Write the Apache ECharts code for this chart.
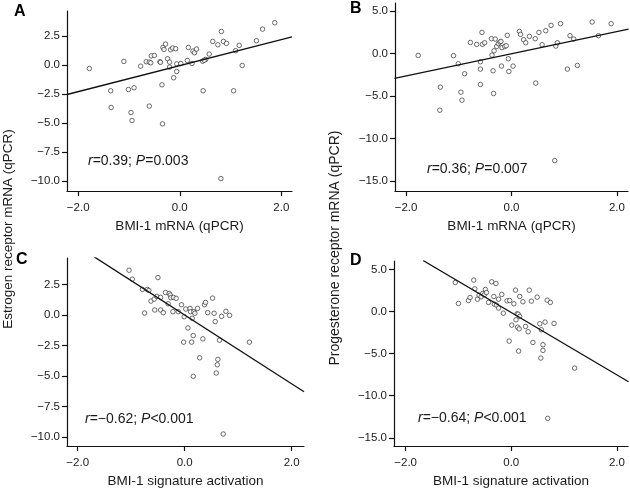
<!DOCTYPE html>
<html><head><meta charset="utf-8">
<script src="https://cdn.jsdelivr.net/npm/echarts@6/dist/echarts.min.js"></script>
<style>html,body{margin:0;padding:0;background:#fff}#c{width:630px;height:492px}</style>
</head><body><div id="c"></div>
<script>
// Panel A: BMI-1 mRNA vs Estrogen receptor mRNA
const aX = [-1.78,-1.36,-1.35,-1.10,-1.01,-0.90,-0.96,-0.94,-0.77,-0.66,-0.60,-0.57,-0.60,-0.56,-0.50,-0.39,-0.38,-0.35,-0.34,-0.33,-0.31,-0.28,-0.24,-0.20,-0.20,-0.18,-0.14,-0.08,-0.12,-0.06,-0.06,0.02,0.15,0.17,0.24,0.26,0.29,0.33,0.45,0.46,0.51,0.58,0.65,0.75,0.82,0.86,0.92,0.81,1.06,1.10,1.17,1.23,1.51,1.63,1.87,0.48];
const aY = [-0.29,-2.21,-3.65,0.32,-2.10,-1.95,-4.08,-4.77,-0.09,0.29,0.26,0.20,-3.53,0.80,0.83,0.29,0.24,-1.70,-5.06,1.52,1.35,1.81,0.55,0.26,-0.17,1.32,1.47,1.41,-1.09,-0.55,0.11,0.14,0.40,1.52,0.14,1.21,1.06,1.38,0.34,-2.21,0.49,0.95,2.04,1.75,2.90,2.04,1.87,-9.77,-2.21,1.24,1.70,-0.03,2.10,3.10,3.65,0.42];
const aFitX = [-2.22, 2.21];
const aFitY = [-2.53, 2.44];
// Panel B: BMI-1 mRNA vs Progesterone receptor mRNA
const bX = [-1.77,-1.35,-1.36,-1.10,-1.01,-0.96,-0.94,-0.89,-0.78,-0.66,-0.59,-0.59,-0.59,-0.56,-0.55,-0.51,-0.38,-0.37,-0.35,-0.34,-0.33,-0.31,-0.28,-0.25,-0.22,-0.20,-0.19,-0.18,-0.13,-0.10,-0.08,-0.06,-0.05,0.03,0.15,0.17,0.23,0.27,0.34,0.45,0.46,0.52,0.58,0.65,0.75,0.82,0.84,0.87,0.93,1.06,1.11,1.18,1.25,1.53,1.65,1.89];
const bY = [-0.24,-3.96,-6.67,-0.27,-1.22,-4.55,-5.49,-2.39,1.29,1.06,-1.84,-0.98,-3.65,2.47,1.06,1.25,1.73,-0.20,-2.04,-4.71,0.31,1.69,0.82,1.14,1.33,1.41,-1.49,0.67,0.82,0.90,2.12,-0.63,-2.12,-1.49,2.59,2.24,1.61,1.25,2.00,1.73,-3.49,2.47,1.02,2.67,3.29,-12.59,0.86,1.25,3.49,-1.84,2.08,1.69,-1.41,3.69,2.08,3.49];
const bFitX = [-2.22, 2.22];
const bFitY = [-2.94, 2.86];
// Panel C: BMI-1 signature activation vs Estrogen receptor mRNA
const cX = [-1.04,-0.98,-0.79,-0.70,-0.67,-0.75,-0.63,-0.57,-0.52,-0.56,-0.50,-0.45,-0.45,-0.40,-0.36,-0.31,-0.29,-0.27,-0.26,-0.22,-0.21,-0.16,-0.12,-0.06,-0.02,-0.01,0.02,0.06,0.10,0.11,0.13,0.14,0.16,0.16,0.17,0.19,0.24,0.28,0.34,0.37,0.39,0.43,0.52,0.55,0.57,0.59,0.61,0.62,0.65,0.69,0.72,0.77,0.84,1.21];
const cY = [3.66,2.93,2.09,2.09,2.01,0.16,1.14,1.30,1.52,0.41,3.06,1.44,0.41,0.19,1.84,0.92,1.76,1.63,1.41,0.27,1.44,1.36,0.27,0.84,-2.22,-0.14,0.49,-1.06,0.54,0.27,-2.22,-0.27,-1.68,-5.01,0.27,0.14,0.54,-3.50,-1.95,0.84,1.03,0.19,1.38,0.14,-0.54,-4.74,-4.07,-3.63,-2.06,-0.11,-9.73,0.30,-0.03,-2.22];
const cFitX = [-1.69, 2.23];
const cFitY = [4.75, -6.27];
// Panel D: BMI-1 signature activation vs Progesterone receptor mRNA
const dX = [-1.06,-1.00,-0.81,-0.78,-0.71,-0.69,-0.64,-0.61,-0.57,-0.54,-0.51,-0.49,-0.47,-0.43,-0.37,-0.33,-0.32,-0.29,-0.28,-0.24,-0.24,-0.18,-0.15,-0.08,-0.03,-0.04,0.01,0.05,0.08,0.09,0.11,0.12,0.13,0.14,0.15,0.16,0.16,0.22,0.27,0.32,0.34,0.38,0.41,0.49,0.54,0.56,0.57,0.60,0.60,0.64,0.68,0.69,0.74,0.81,1.20];
const dY = [3.44,0.95,1.30,1.66,3.72,2.69,1.46,1.94,1.74,2.13,1.98,2.61,2.25,1.07,3.52,1.78,0.87,3.32,0.75,0.40,1.46,2.02,-0.20,1.26,1.30,-3.52,-1.62,0.91,2.53,-0.99,-0.28,-1.86,-0.32,-4.70,-2.06,-0.59,1.78,1.15,-1.78,-2.41,2.53,1.23,-3.68,1.70,-1.46,-5.53,-2.17,-3.95,-4.62,-1.26,1.34,-12.69,1.07,-1.42,-6.72];
const dFitX = [-1.67, 2.22];
const dFitY = [6.05, -8.35];

const xTicks = [-2, 0, 2];
const yTicksER = [-10, -7.5, -5, -2.5, 0, 2.5];
const yTicksPR = [-15, -10, -5, 0, 5];
const xTitles = ['BMI-1 mRNA (qPCR)', 'BMI-1 mRNA (qPCR)', 'BMI-1 signature activation', 'BMI-1 signature activation'];
const yTitles = ['Estrogen receptor mRNA (qPCR)', 'Progesterone receptor mRNA (qPCR)'];
const panelLetters = ['A', 'B', 'C', 'D'];
const stats = [['0.39', '=0.003'], ['0.36', '=0.007'], ['\u22120.62', '<0.001'], ['\u22120.64', '<0.001']];

const FONT = 'Liberation Sans, Arial, Helvetica, sans-serif';
const TXT = '#1a1a1a';
const fmt = v => (v < 0 ? '\u2212' : '') + Math.abs(v).toFixed(1);

const grids = [
  {left: 67, top: 11, width: 225, height: 180},
  {left: 395, top: 3, width: 233, height: 188},
  {left: 67, top: 258, width: 237, height: 188},
  {left: 394, top: 261, width: 234, height: 185}
];
const xRanges = [[-2.22, 2.21], [-2.21, 2.21], [-2.2, 2.23], [-2.22, 2.21]];
const yRanges = [[-10.84, 4.66], [-16.16, 5.92], [-10.71, 4.66], [-15.97, 5.99]];
const yTickSets = [yTicksER, yTicksPR, yTicksER, yTicksPR];
const scat = [[aX, aY], [bX, bY], [cX, cY], [dX, dY]];
const fits = [[aFitX, aFitY], [bFitX, bFitY], [cFitX, cFitY], [dFitX, dFitY]];

const axisCommon = {
  axisLine: {show: true, onZero: false, lineStyle: {color: '#111', width: 1.2}},
  axisTick: {show: true, length: 5, lineStyle: {color: '#111', width: 1.2}},
  splitLine: {show: false},
  axisLabel: {color: TXT, fontFamily: FONT, fontSize: 11.5, formatter: fmt}
};

const xAxis = [], yAxis = [], series = [];
for (let i = 0; i < 4; i++) {
  xAxis.push({
    type: 'value', gridIndex: i, min: xRanges[i][0], max: xRanges[i][1],
    axisLine: axisCommon.axisLine, splitLine: axisCommon.splitLine,
    axisTick: Object.assign({}, axisCommon.axisTick, {customValues: xTicks}),
    axisLabel: Object.assign({}, axisCommon.axisLabel, {customValues: xTicks, margin: 11}),
    name: xTitles[i], nameLocation: 'middle', nameGap: 28,
    nameTextStyle: {color: TXT, fontFamily: FONT, fontSize: 13.5}
  });
  yAxis.push({
    type: 'value', gridIndex: i, min: yRanges[i][0], max: yRanges[i][1],
    axisLine: axisCommon.axisLine, splitLine: axisCommon.splitLine,
    axisTick: Object.assign({}, axisCommon.axisTick, {customValues: yTickSets[i]}),
    axisLabel: Object.assign({}, axisCommon.axisLabel, {customValues: yTickSets[i], margin: 7})
  });
  series.push({
    type: 'scatter', xAxisIndex: i, yAxisIndex: i, symbol: 'circle', symbolSize: 4.5,
    itemStyle: {color: '#fff', borderColor: '#333', borderWidth: 0.9},
    data: scat[i][0].map((x, k) => [x, scat[i][1][k]]), silent: true
  });
  series.push({
    type: 'line', xAxisIndex: i, yAxisIndex: i, showSymbol: false, symbol: 'none',
    lineStyle: {color: '#111', width: 1.3}, clip: true, silent: true,
    data: fits[i][0].map((x, k) => [x, fits[i][1][k]])
  });
}

const statPos = [[88, 162], [427, 170], [85, 420], [418, 419]];
const letterPos = [[14, 12], [350, 9], [16, 260], [350, 261]];
const graphic = [];
for (let i = 0; i < 4; i++) {
  graphic.push({
    type: 'text', left: statPos[i][0], top: statPos[i][1] - 8,
    style: {
      text: '{i|r}{n|=' + stats[i][0] + '; }{i|P}{n|' + stats[i][1] + '}',
      rich: {
        i: {fontStyle: 'italic', fontFamily: FONT, fontSize: 14, fill: TXT},
        n: {fontFamily: FONT, fontSize: 14, fill: TXT}
      }
    }
  });
  graphic.push({
    type: 'text', left: letterPos[i][0], top: letterPos[i][1] - 8,
    style: {text: panelLetters[i], font: 'bold 16px ' + FONT, fill: '#000'}
  });
}
graphic.push({
  type: 'text', x: 8, y: 229, rotation: Math.PI / 2,
  style: {text: yTitles[0], font: '13.5px ' + FONT, fill: TXT, textAlign: 'center', textVerticalAlign: 'middle'}
});
graphic.push({
  type: 'text', x: 335, y: 248, rotation: Math.PI / 2,
  style: {text: yTitles[1], font: '14px ' + FONT, fill: TXT, textAlign: 'center', textVerticalAlign: 'middle'}
});

const chart = echarts.init(document.getElementById('c'), null, {renderer: 'canvas'});
chart.setOption({
  animation: false, backgroundColor: '#fff',
  grid: grids, xAxis, yAxis, series, graphic
});
</script></body></html>
